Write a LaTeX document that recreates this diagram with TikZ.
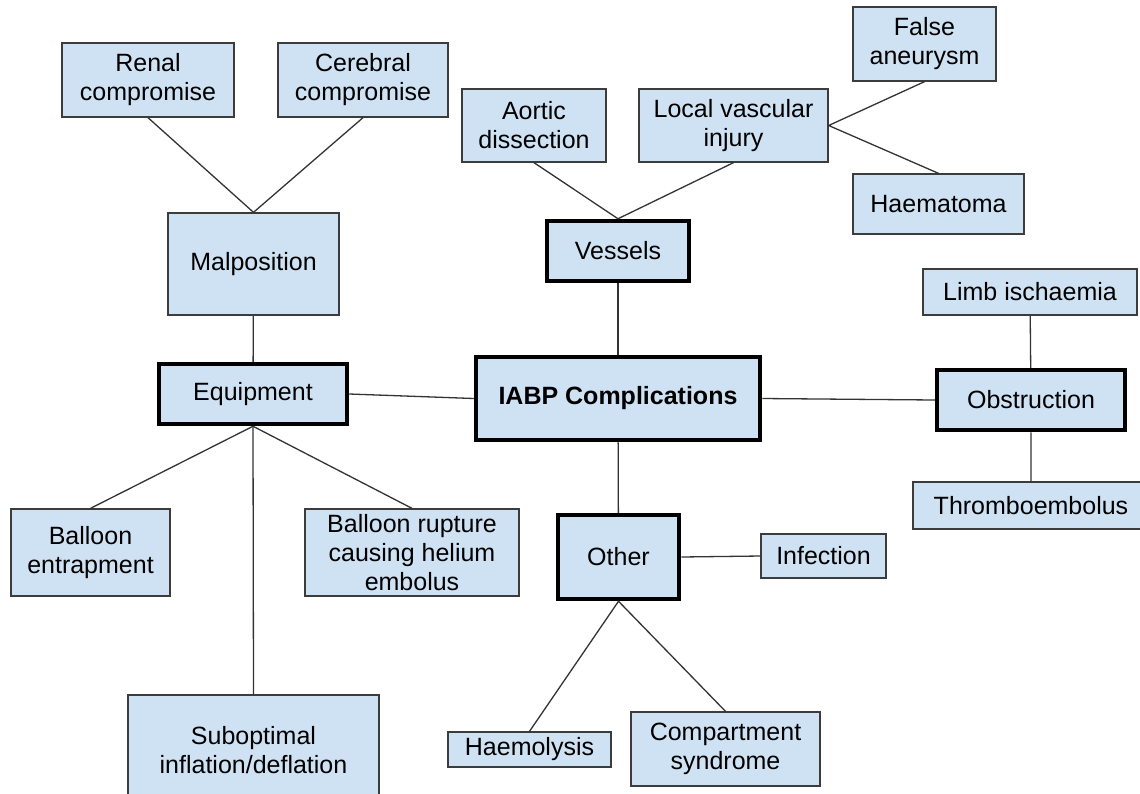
\documentclass[tikz,border=0pt]{standalone}
\usepackage{fontspec}
\setmainfont{Liberation Sans}
\usepackage{tikz}
\definecolor{boxfill}{HTML}{CFE2F3}
\definecolor{boxline}{HTML}{3C3C3C}
\tikzstyle{box}=[rectangle,draw=boxline,fill=boxfill,line width=1.3pt,inner sep=0pt,align=center,font=\fontsize{25}{29}\selectfont]
\tikzstyle{group}=[box,draw=black,line width=4.5pt]
\tikzstyle{link}=[draw=black!80,line width=1.3pt]

\begin{document}
\begin{tikzpicture}[x=1pt,y=-1pt]
    \useasboundingbox (0,0) rectangle (1140,793);
    \node[box, minimum width=172pt, minimum height=74pt] (renal) at (148,80) {Renal\\compromise};
    \node[box, minimum width=170pt, minimum height=74pt] (cerebral) at (363,80) {Cerebral\\compromise};
    \node[box, minimum width=171pt, minimum height=102pt] (malposition) at (253.5,264) {Malposition};
    \node[group, minimum width=188pt, minimum height=60pt] (equipment) at (253,394) {Equipment};
    \node[group, minimum width=284pt, minimum height=83pt] (iabp) at (618,398.5) {\textbf{IABP Complications}};
    \node[group, minimum width=142pt, minimum height=60pt] (vessels) at (618,251) {Vessels};
    \node[box, minimum width=144pt, minimum height=73pt] (aortic) at (534,125.5) {Aortic\\dissection};
    \node[box, minimum width=189pt, minimum height=73pt] (local) at (733.5,125.5) {Local vascular\\injury};
    \node[box, minimum width=143pt, minimum height=74pt] (aneurysm) at (924.5,44) {False\\aneurysm};
    \node[box, minimum width=171pt, minimum height=60pt] (haematoma) at (938.5,204) {Haematoma};
    \node[box, minimum width=214pt, minimum height=46pt] (limb) at (1030,292) {Limb ischaemia};
    \node[group, minimum width=188pt, minimum height=60pt] (obstruction) at (1031,400) {Obstruction};
    \node[box, minimum width=236pt, minimum height=47pt] (thrombo) at (1031,505.5) {Thromboembolus};
    \node[group, minimum width=121pt, minimum height=84pt] (other) at (618.5,557) {Other};
    \node[box, minimum width=125pt, minimum height=44pt] (infection) at (823.5,556) {Infection};
    \node[box, minimum width=159pt, minimum height=87pt] (entrapment) at (90.5,552.5) {Balloon\\entrapment};
    \node[box, minimum width=214pt, minimum height=87pt] (rupture) at (412,552.5) {Balloon rupture\\causing helium\\embolus};
    \node[box, minimum width=251pt, minimum height=110pt] (suboptimal) at (253.5,750) {Suboptimal\\inflation/deflation};
    \node[box, minimum width=163pt, minimum height=35pt] (haemolysis) at (529.5,749.5) {Haemolysis};
    \node[box, minimum width=189pt, minimum height=74pt] (compartment) at (725.5,749) {Compartment\\syndrome};
    \draw[link] (renal.south) -- (malposition.north) -- (cerebral.south);
    \draw[link] (malposition) -- (equipment);
    \draw[link] (equipment.east) -- (iabp.west);
    \draw[link] (entrapment.north) -- (equipment.south) -- (rupture.north);
    \draw[link] (equipment.south) -- (suboptimal.north);
    \draw[link] (aortic.south) -- (vessels.north) -- (local.south);
    \draw[link] (aneurysm.south) -- (local.east) -- (haematoma.north);
    \draw[link] (vessels) -- (iabp);
    \draw[link] (iabp.east) -- (obstruction.west);
    \draw[link] (limb) -- (obstruction) -- (thrombo);
    \draw[link] (iabp) -- (other);
    \draw[link] (other.east) -- (infection.west);
    \draw[link] (haemolysis.north) -- (other.south) -- (compartment.north);
\end{tikzpicture}
\end{document}
